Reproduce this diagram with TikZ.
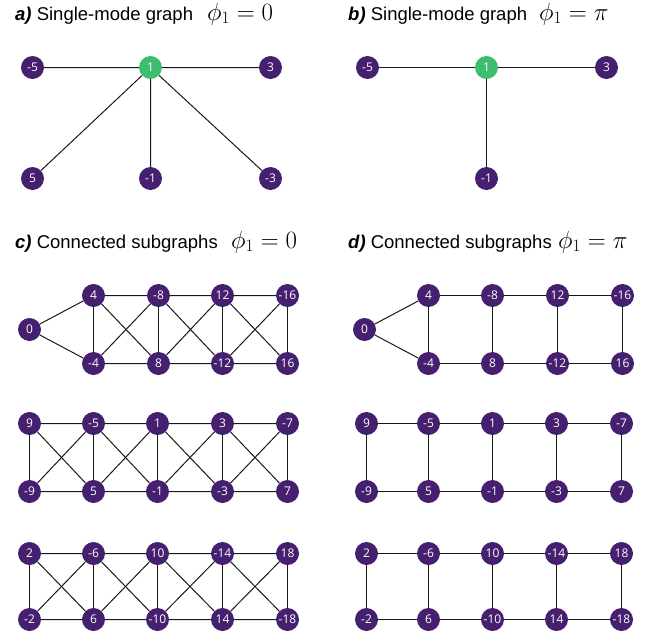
\documentclass[tikz,border=0pt]{standalone}
\usepackage{fontspec}
\setsansfont{Liberation Sans}
\newfontfamily\nodefont{Open Sans}
\definecolor{purp}{HTML}{45206F}
\definecolor{grn}{HTML}{3DBE6E}
\tikzset{
  gn/.style={circle, fill=purp, minimum size=23pt, inner sep=0pt, text=white, font=\nodefont\fontsize{12}{13}\selectfont},
  gg/.style={gn, fill=grn},
  ed/.style={draw=black!90, line width=1pt},
  ttl/.style={anchor=base west, inner sep=0pt, font=\sffamily\fontsize{18.5}{22}\selectfont},
  mth/.style={anchor=base west, inner sep=0pt, font=\fontsize{23}{26}\selectfont}
}
\begin{document}
\begin{tikzpicture}[x=1pt,y=-1pt]
\useasboundingbox (0,0) rectangle (657,635);
% titles
\node[ttl] (ta) at (15,20) {\textbf{\textit{a)}} Single-mode graph};
\node[mth] (ma) at (207,20) {$\phi_1 = 0$};
\node[ttl] (tb) at (348,20) {\textbf{\textit{b)}} Single-mode graph};
\node[mth] (mb) at (539,20) {$\phi_1 = \pi$};
\node[ttl] (tc) at (15,248) {\textbf{\textit{c)}} Connected subgraphs};
\node[mth] (mc) at (231,248) {$\phi_1 = 0$};
\node[ttl] (td) at (348,248) {\textbf{\textit{d)}} Connected subgraphs};
\node[mth] (md) at (558,248) {$\phi_1 = \pi$};
\begin{scope}[shift={(0.5,0.5)}]
% panel a
\node[gn] (am5) at (32,67) {-5};
\node[gg] (a1) at (150,67) {1};
\node[gn] (a3) at (270,67) {3};
\node[gn] (a5) at (32,178) {5};
\node[gn] (am1) at (150,178) {-1};
\node[gn] (am3) at (270,178) {-3};
\draw[ed] (am5) -- (a1) (a1) -- (a3) (a1) -- (a5) (a1) -- (am1) (a1) -- (am3);
% panel b
\node[gn] (bm5) at (367,67) {-5};
\node[gg] (b1) at (486,67) {1};
\node[gn] (b3) at (606,67) {3};
\node[gn] (bm1) at (486,178) {-1};
\draw[ed] (bm5) -- (b1) (b1) -- (b3) (b1) -- (bm1);
% panel c row 1
\node[gn] (c0) at (29,329) {0};
\foreach \x/\t/\b [count=\i] in {93/4/-4, 158/-8/8, 222/12/-12, 287/-16/16} {
  \node[gn] (cat\i) at (\x,295) {\t};
  \node[gn] (cab\i) at (\x,363) {\b};
}
\draw[ed] (c0) -- (cat1) (c0) -- (cab1);
% panel c rows 2,3
\foreach \x/\t/\b [count=\i] in {29/9/-9, 93/-5/5, 157/1/-1, 222/3/-3, 287/-7/7} {
  \node[gn] (cbt\i) at (\x,423) {\t};
  \node[gn] (cbb\i) at (\x,491) {\b};
}
\foreach \x/\t/\b [count=\i] in {29/2/-2, 93/-6/6, 157/10/-10, 222/-14/14, 287/18/-18} {
  \node[gn] (cct\i) at (\x,553) {\t};
  \node[gn] (ccb\i) at (\x,619) {\b};
}
\foreach \i in {1,...,4} \draw[ed] (cat\i) -- (cab\i);
\foreach \i in {1,...,5} \draw[ed] (cbt\i) -- (cbb\i) (cct\i) -- (ccb\i);
\foreach \i/\j in {1/2,2/3,3/4}
  \draw[ed] (cat\i) -- (cat\j) (cab\i) -- (cab\j) (cat\i) -- (cab\j) (cab\i) -- (cat\j);
\foreach \i/\j in {1/2,2/3,3/4,4/5}
  \draw[ed] (cbt\i) -- (cbt\j) (cbb\i) -- (cbb\j) (cbt\i) -- (cbb\j) (cbb\i) -- (cbt\j);
\foreach \i/\j in {1/2,2/3,3/4,4/5}
  \draw[ed] (cct\i) -- (cct\j) (ccb\i) -- (ccb\j) (cct\i) -- (ccb\j) (ccb\i) -- (cct\j);
% panel d row 1
\node[gn] (d0) at (364,329) {0};
\foreach \x/\t/\b [count=\i] in {428/4/-4, 492/-8/8, 557/12/-12, 622/-16/16} {
  \node[gn] (dat\i) at (\x,295) {\t};
  \node[gn] (dab\i) at (\x,363) {\b};
}
\draw[ed] (d0) -- (dat1) (d0) -- (dab1);
\foreach \x/\t/\b [count=\i] in {366/9/-9, 428/-5/5, 492/1/-1, 556/3/-3, 621/-7/7} {
  \node[gn] (dbt\i) at (\x,423) {\t};
  \node[gn] (dbb\i) at (\x,491) {\b};
}
\foreach \x/\t/\b [count=\i] in {366/2/-2, 428/-6/6, 492/10/-10, 556/-14/14, 621/18/-18} {
  \node[gn] (dct\i) at (\x,553) {\t};
  \node[gn] (dcb\i) at (\x,619) {\b};
}
\foreach \i in {1,...,4} \draw[ed] (dat\i) -- (dab\i);
\foreach \i in {1,...,5} \draw[ed] (dbt\i) -- (dbb\i) (dct\i) -- (dcb\i);
\foreach \i/\j in {1/2,2/3,3/4}
  \draw[ed] (dat\i) -- (dat\j) (dab\i) -- (dab\j);
\foreach \i/\j in {1/2,2/3,3/4,4/5}
  \draw[ed] (dbt\i) -- (dbt\j) (dbb\i) -- (dbb\j) (dct\i) -- (dct\j) (dcb\i) -- (dcb\j);
\end{scope}
\end{tikzpicture}
\end{document}
